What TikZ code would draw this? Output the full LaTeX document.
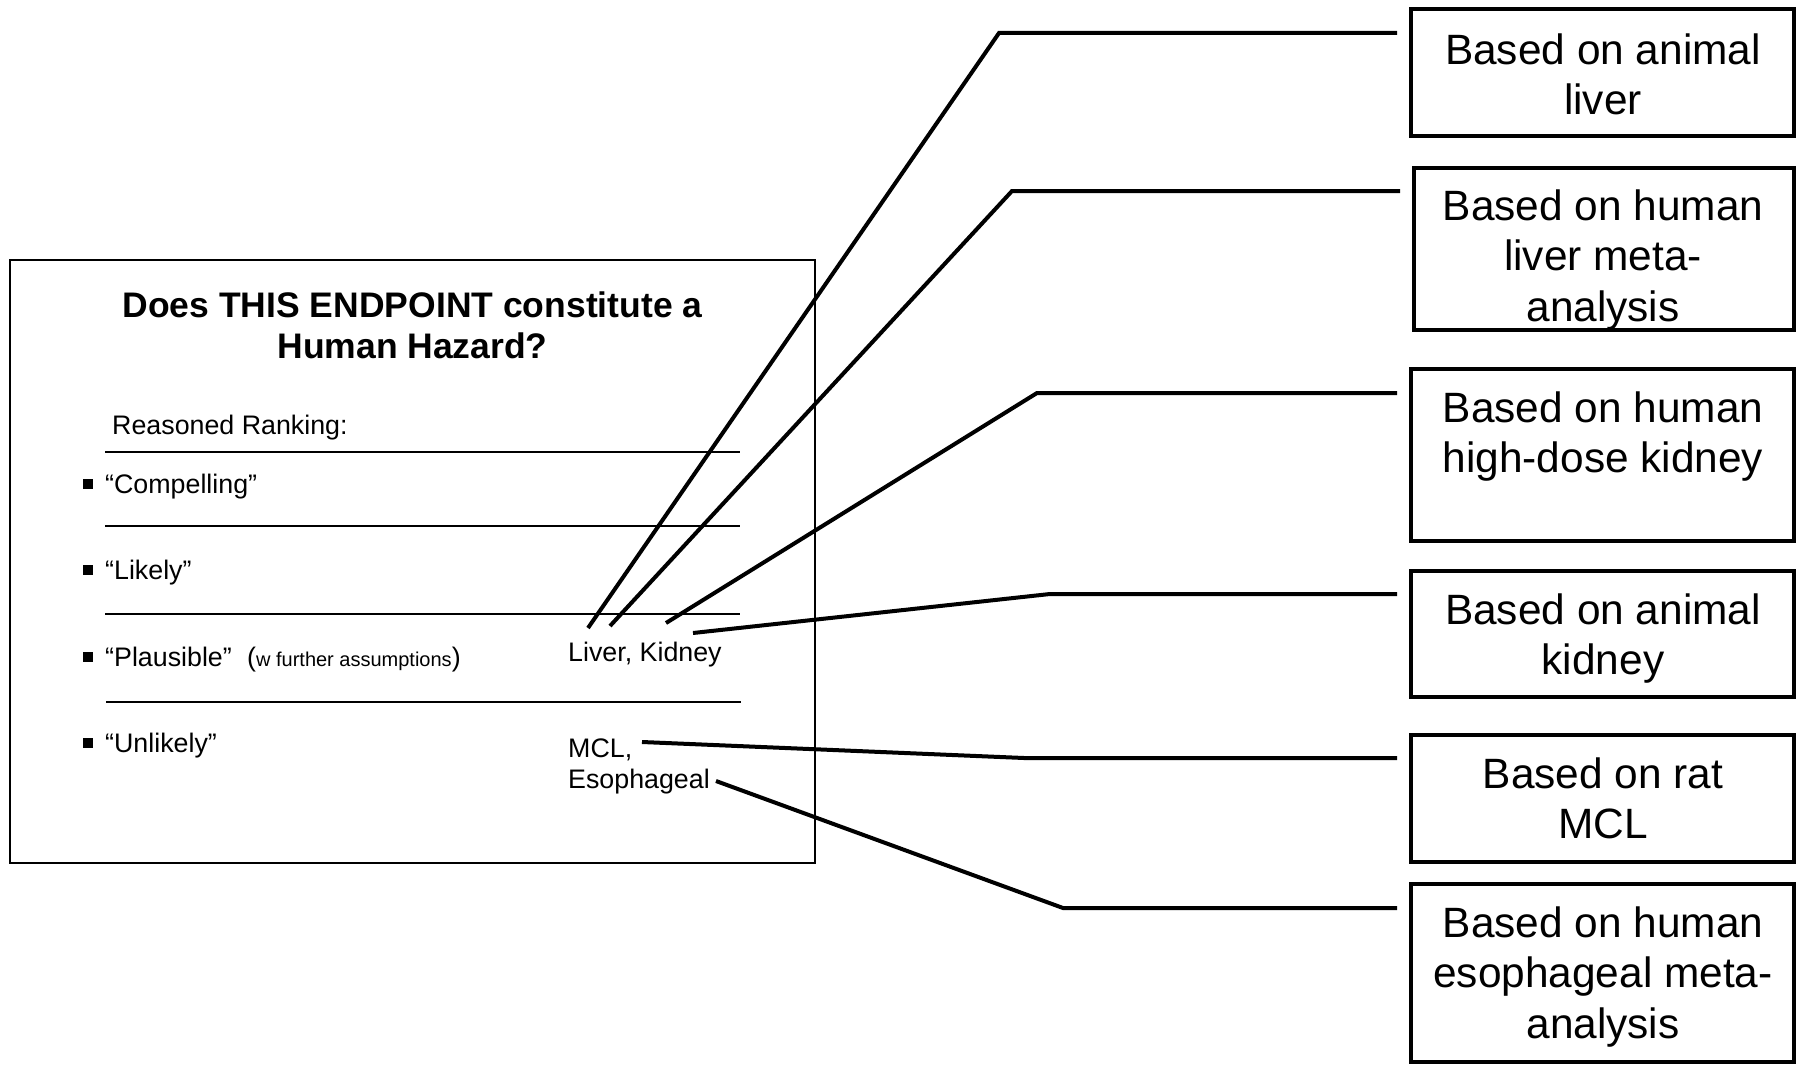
\documentclass[tikz,border=0pt]{standalone}
\usepackage{fontspec}
\setmainfont{Liberation Sans}
\newcommand{\myblt}{\raisebox{4pt}{\rule{10pt}{10pt}}\hspace{12pt}}
\newcommand{\cstack}[1]{\begin{tabular}[t]{@{}c@{}}#1\end{tabular}}
\newcommand{\lstack}[1]{\begin{tabular}[t]{@{}l@{}}#1\end{tabular}}
\begin{document}
\begin{tikzpicture}[x=1pt,y=-1pt,
  conn/.style={line width=4pt, line join=miter},
  rbox/.style={draw, line width=4pt, inner sep=0pt},
  rtext/.style={inner sep=0pt, anchor=base, font=\fontsize{42.4}{50.5}\selectfont},
  body/.style={inner sep=0pt, anchor=base west, font=\fontsize{26.8}{31.6}\selectfont},
  sepline/.style={line width=2pt}]
\useasboundingbox (0,0) rectangle (1798,1065);
\fill[white] (0,0) rectangle (1798,1065);

% main panel
\node[draw, line width=2pt, inner sep=0pt, minimum width=805pt, minimum height=603pt] (main) at (412.5,561.5) {};
\node[inner sep=0pt, anchor=base, font=\bfseries\fontsize{35.5}{41}\selectfont] (title) at (412.5,317) {\cstack{Does THIS ENDPOINT constitute a\\Human Hazard?}};
\node[body] (rr) at (112,434) {Reasoned Ranking:};
\draw[sepline] (105,452) -- (740,452);
\node[body] (c1) at (83,493) {\myblt“Compelling”};
\draw[sepline] (105,526) -- (740,526);
\node[body] (c2) at (83,579) {\myblt“Likely”};
\draw[sepline] (105,614) -- (740,614);
\node[body] (c3) at (83,666) {\myblt“Plausible”};
\node[body] (c3n) at (247,666) {({\fontsize{20}{24}\selectfont w further assumptions})};
\node[body] (lk) at (568,661) {Liver, Kidney};
\draw[sepline] (106,702) -- (741,702);
\node[body] (c4) at (83,752) {\myblt“Unlikely”};
\node[body] (mcl) at (568,757) {\lstack{MCL,\\Esophageal}};

% right boxes
\node[rbox, minimum width=383.5pt, minimum height=126.5pt] (b1) at (1602.25,72.75) {};
\node[rbox, minimum width=380pt, minimum height=162.5pt] (b2) at (1604,248.75) {};
\node[rbox, minimum width=383.5pt, minimum height=172pt] (b3) at (1602.25,455) {};
\node[rbox, minimum width=383.5pt, minimum height=126.5pt] (b4) at (1602.25,633.75) {};
\node[rbox, minimum width=383.5pt, minimum height=127pt] (b5) at (1602.25,798) {};
\node[rbox, minimum width=383.5pt, minimum height=178pt] (b6) at (1602.25,973) {};

\node[rtext] (t1) at (1603,64) {\cstack{Based on animal\\liver}};
\node[rtext] (t2) at (1603,220) {\cstack{Based on human\\liver meta-\\analysis}};
\node[rtext] (t3) at (1603,422) {\cstack{Based on human\\high-dose kidney}};
\node[rtext] (t4) at (1603,624) {\cstack{Based on animal\\kidney}};
\node[rtext] (t5) at (1603,788) {\cstack{Based on rat\\MCL}};
\node[rtext] (t6) at (1603,937) {\cstack{Based on human\\esophageal meta-\\analysis}};

% connectors
\coordinate (p1a) at (588,628);  \coordinate (p1b) at (999,33);   \coordinate (p1c) at (1397,33);
\coordinate (p2a) at (610,626);  \coordinate (p2b) at (1012,191); \coordinate (p2c) at (1400,191);
\coordinate (p3a) at (666,623);  \coordinate (p3b) at (1037,393); \coordinate (p3c) at (1397,393);
\coordinate (p4a) at (693,633);  \coordinate (p4b) at (1050,594); \coordinate (p4c) at (1397,594);
\coordinate (p5a) at (642,742);  \coordinate (p5b) at (1024,758); \coordinate (p5c) at (1397,758);
\coordinate (p6a) at (716,781);  \coordinate (p6b) at (1063,908); \coordinate (p6c) at (1397,908);
\draw[conn] (p1a) -- (p1b) -- (p1c);
\draw[conn] (p2a) -- (p2b) -- (p2c);
\draw[conn] (p3a) -- (p3b) -- (p3c);
\draw[conn] (p4a) -- (p4b) -- (p4c);
\draw[conn] (p5a) -- (p5b) -- (p5c);
\draw[conn] (p6a) -- (p6b) -- (p6c);
\end{tikzpicture}
\end{document}
